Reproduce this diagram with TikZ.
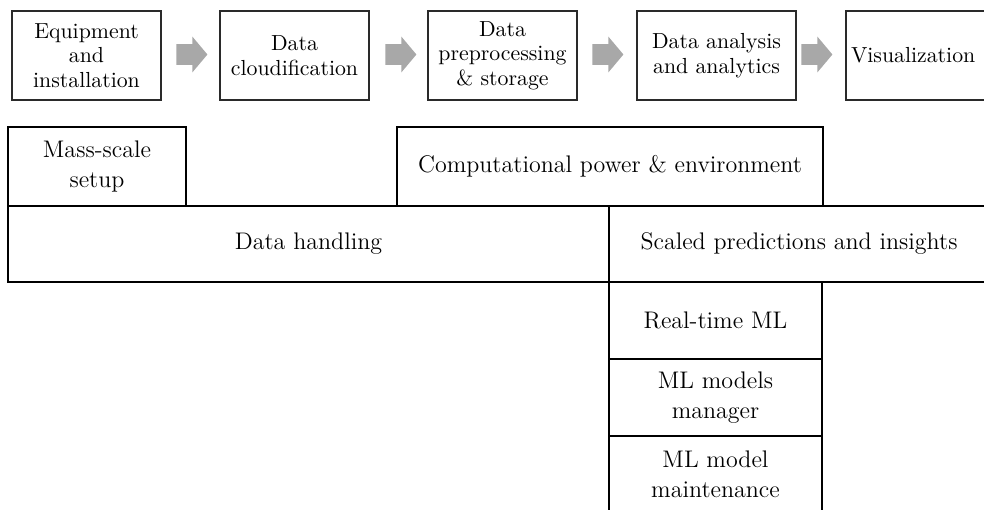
\documentclass[tikz,border=0pt]{standalone}
\usetikzlibrary{shapes.arrows}
\definecolor{boxline}{HTML}{2A2A2A}
\definecolor{flowgray}{HTML}{A8A8A8}
\begin{document}
\begin{tikzpicture}[x=0.5pt, y=-0.5pt,
  stage/.style={draw=boxline, line width=0.6pt, minimum height=44.5pt,
    minimum width=74.5pt, inner sep=0pt, align=center,
    font=\fontsize{10.9}{12.3}\selectfont},
  flow/.style={single arrow, fill=flowgray, draw=none, inner xsep=0pt,
    inner ysep=5pt, minimum height=15.5pt, anchor=tail,
    single arrow head extend=3.75pt, single arrow tip angle=100},
  cell/.style={draw=black, line width=1pt, inner sep=0pt, align=center,
    font=\fontsize{12}{14.9}\selectfont}]
  \path[use as bounding box] (0,0) rectangle (984,509);
  \clip (0,0) rectangle (984,509);

  % pipeline stages
  \node[stage] (s1) at (86.5,55.5) {Equipment\\and\\installation};
  \node[stage] (s2) at (294.5,55.5) {Data\\cloudification};
  \node[stage] (s3) at (502.5,55.5) {Data\\preprocessing\\\& storage};
  \node[stage, minimum width=79.5pt] (s4) at (716.5,55.5) {Data analysis\\and analytics};
  \node[stage, text width=69.5pt, inner xsep=2.5pt, align=left] (s5) at (920.5,55.5) {Visualization};

  % block arrows between stages
  \node[flow] (f1) at (176,54.5) {};
  \node[flow] (f2) at (385,54.5) {};
  \node[flow] (f3) at (592,54.5) {};
  \node[flow] (f4) at (801,54.5) {};

  % layered capabilities
  \node[cell, minimum width=89pt, minimum height=39.5pt] (mass) at (97,166.5) {Mass-scale\\setup};
  \node[cell, minimum width=213pt, minimum height=39.5pt] (comp) at (610,166.5) {Computational power \& environment};
  \node[cell, minimum width=300.5pt, minimum height=38pt] (hand) at (308.5,244) {Data handling};
  \node[cell, minimum width=190pt, minimum height=38pt] (scal) at (799,244) {Scaled predictions and insights};
  \node[cell, minimum width=106.5pt, minimum height=38.5pt] (rt) at (715.5,320.5) {Real-time ML};
  \node[cell, minimum width=106.5pt, minimum height=38.5pt] (mgr) at (715.5,397.5) {ML models\\manager};
  \node[cell, minimum width=106.5pt, minimum height=38.5pt] (mnt) at (715.5,474.5) {ML model\\maintenance};
\end{tikzpicture}
\end{document}
